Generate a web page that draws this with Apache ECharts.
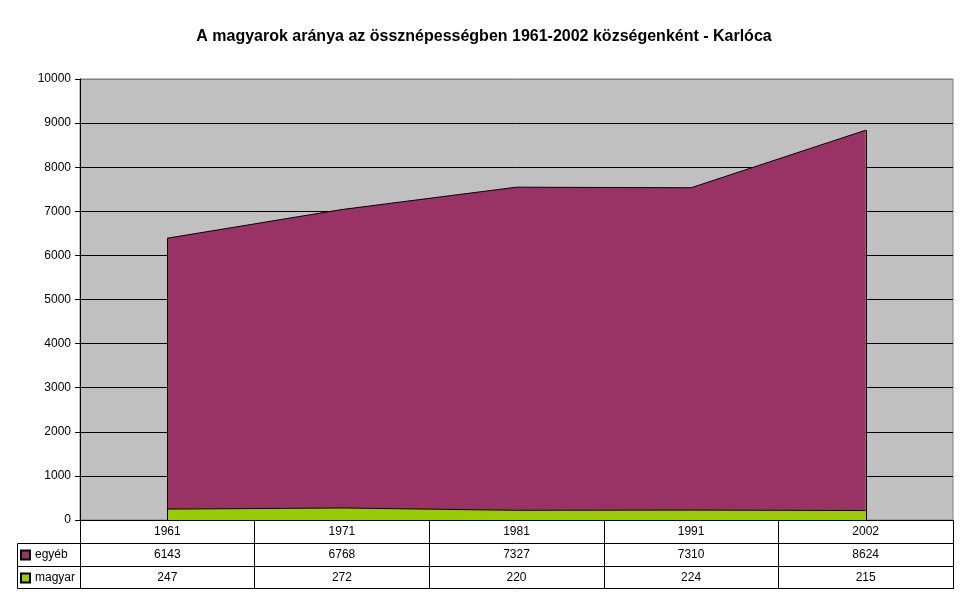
<!DOCTYPE html>
<html>
<head>
<meta charset="utf-8">
<title>Karlóca</title>
<script src="https://cdn.jsdelivr.net/npm/echarts@6/dist/echarts.min.js"></script>
<style>
  html, body { margin: 0; padding: 0; background: #fff; }
  #chart { width: 968px; height: 604px; }
</style>
</head>
<body>
<div id="chart"></div>
<script>
const years = ['1961', '1971', '1981', '1991', '2002']
const egyeb = [6143, 6768, 7327, 7310, 8624]
const magyar = [247, 272, 220, 224, 215]
const yTicks = { min: 0, max: 10000, step: 1000 }

const FONT = '"Liberation Sans", Arial, sans-serif'
const ROW = 23

const chart = echarts.init(document.getElementById('chart'))

// table rows are extra x axes stacked under the plot
const rowAxis = (offset, labels, showLabel) => ({
  type: 'category',
  data: years,
  position: 'bottom',
  offset: offset,
  boundaryGap: true,
  axisLine: { show: true, lineStyle: { color: '#000', width: 1 } },
  axisTick: { show: false },
  splitLine: { show: false },
  axisLabel: {
    show: showLabel,
    margin: 6,
    color: '#000',
    fontFamily: FONT,
    fontSize: 12,
    formatter: (v, i) => String(labels[i])
  }
})

const option = {
  backgroundColor: '#fff',
  animation: false,
  title: {
    text: 'A magyarok aránya az össznépességben 1961-2002 községenként - Karlóca',
    left: 'center',
    top: 24,
    textStyle: { fontFamily: FONT, fontSize: 16, fontWeight: 'bold', color: '#000' }
  },
  legend: {
    data: ['egyéb', 'magyar'],
    orient: 'vertical',
    left: 20,
    top: 548,
    itemWidth: 9,
    itemHeight: 9,
    itemGap: 9,
    icon: 'rect',
    selectedMode: false,
    textStyle: { fontFamily: FONT, fontSize: 12, color: '#000', lineHeight: 14 },
    padding: 0
  },
  grid: {
    left: 80,
    right: 15,
    top: 79,
    bottom: 84,
    show: true,
    backgroundColor: '#c0c0c0',
    borderColor: '#808080',
    borderWidth: 1
  },
  xAxis: [
    {
      type: 'category',
      data: years,
      boundaryGap: true,
      axisLine: { show: true, lineStyle: { color: '#000', width: 1 } },
      axisTick: { show: true, length: ROW * 3, lineStyle: { color: '#000' } },
      splitLine: { show: false },
      axisLabel: { margin: 6, color: '#000', fontFamily: FONT, fontSize: 12 }
    },
    rowAxis(ROW, egyeb, true),
    rowAxis(ROW * 2, magyar, true),
    rowAxis(ROW * 3 - 1, years, false)
  ],
  yAxis: {
    type: 'value',
    min: yTicks.min,
    max: yTicks.max,
    interval: yTicks.step,
    axisLine: { show: true, lineStyle: { color: '#000', width: 1 } },
    axisTick: { show: true, length: 5, lineStyle: { color: '#000' } },
    splitLine: { show: true, lineStyle: { color: '#000', width: 1 } },
    axisLabel: { margin: 9, color: '#000', fontFamily: FONT, fontSize: 12, formatter: (v) => String(v) }
  },
  series: [
    {
      name: 'magyar',
      type: 'line',
      stack: 'total',
      data: magyar,
      symbol: 'none',
      itemStyle: { color: '#99cc00', borderColor: '#000', borderWidth: 1 },
      lineStyle: { color: '#000', width: 1 },
      areaStyle: { color: '#99cc00', opacity: 1 },
      z: 3
    },
    {
      name: 'egyéb',
      type: 'line',
      stack: 'total',
      data: egyeb,
      symbol: 'none',
      itemStyle: { color: '#993366', borderColor: '#000', borderWidth: 1 },
      lineStyle: { color: '#000', width: 1 },
      areaStyle: { color: '#993366', opacity: 1 },
      z: 2
    }
  ]
}

chart.setOption(option)

// legend column of the data table, gray top frame, and vertical edges of the area
const x0 = 80
const yBase = chart.convertToPixel({ yAxisIndex: 0 }, 0)
const yTop = chart.convertToPixel({ yAxisIndex: 0 }, yTicks.max)
const last = years.length - 1
const xa = chart.convertToPixel({ xAxisIndex: 0 }, years[0])
const xb = chart.convertToPixel({ xAxisIndex: 0 }, years[last])
const topA = chart.convertToPixel({ yAxisIndex: 0 }, egyeb[0] + magyar[0])
const topB = chart.convertToPixel({ yAxisIndex: 0 }, egyeb[last] + magyar[last])
const stroke = { stroke: '#000', lineWidth: 1 }

chart.setOption({
  graphic: [
    { type: 'rect', shape: { x: 17.5, y: yBase + ROW + 0.5, width: x0 - 17, height: ROW * 2 - 1 }, style: { fill: null, ...stroke }, z: 10 },
    { type: 'line', shape: { x1: 17.5, y1: yBase + ROW * 2 + 0.5, x2: x0, y2: yBase + ROW * 2 + 0.5 }, style: stroke, z: 10 },
    { type: 'line', shape: { x1: x0 + 1, y1: Math.round(yTop) + 0.5, x2: 953, y2: Math.round(yTop) + 0.5 }, style: { stroke: '#808080', lineWidth: 1 }, z: 10 },
    { type: 'line', shape: { x1: Math.round(xa) + 0.5, y1: topA, x2: Math.round(xa) + 0.5, y2: yBase }, style: stroke, z: 10 },
    { type: 'line', shape: { x1: Math.round(xb) + 0.5, y1: topB, x2: Math.round(xb) + 0.5, y2: yBase }, style: stroke, z: 10 }
  ]
})
</script>
</body>
</html>
